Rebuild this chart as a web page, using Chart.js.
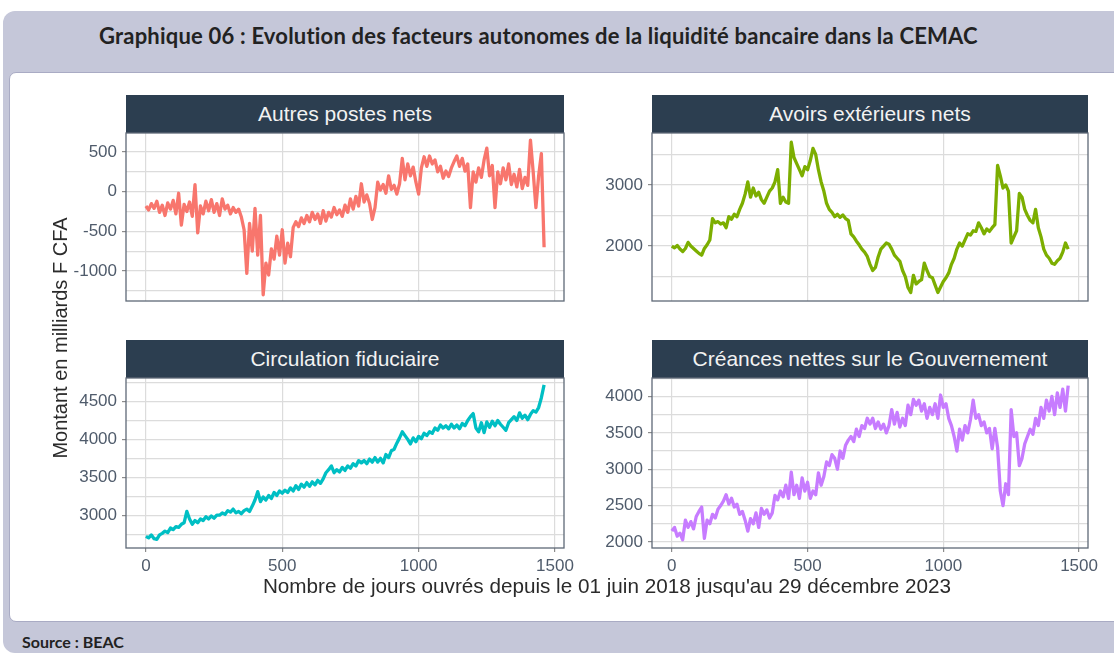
<!DOCTYPE html>
<html lang="fr">
<head>
<meta charset="utf-8">
<title>Graphique 06</title>
<script src="https://cdn.jsdelivr.net/npm/chart.js@4.4.1/dist/chart.umd.min.js"></script>
<style>
  html, body { margin: 0; padding: 0; width: 1114px; height: 655px; overflow: hidden; background: #fff; font-family: "Liberation Sans", Arial, sans-serif; }
  #outer { position: absolute; left: 3px; top: 11px; width: 1200px; height: 642px; background: #c5c7d9; border-radius: 12px; }
  #title { position: absolute; left: 99px; top: 22px; font: bold 22px Lato, sans-serif; letter-spacing: 0.2px; color: #222; white-space: nowrap; }
  #inner { position: absolute; left: 9px; top: 72px; width: 1200px; height: 548px; background: #fff; border: 1px solid #a9abc4; border-radius: 7px; }
  #source { position: absolute; left: 22px; top: 632px; font: bold 16px Lato, sans-serif; color: #222; }
  .strip { position: absolute; height: 38px; background: #2c3e50; color: #f2f2f2; font-size: 21px; line-height: 38px; text-align: center; }
  .panel { position: absolute; }
  #ytitle { position: absolute; left: -140px; top: 326px; width: 400px; height: 24px; line-height: 24px; text-align: center; font-size: 20px; color: #2b2b2b; transform: rotate(-90deg); }
  #xtitle { position: absolute; left: 126px; top: 574px; width: 962px; text-align: center; font-size: 20.7px; color: #2b2b2b; }
</style>
</head>
<body>
<div id="outer"></div>
<div id="title">Graphique 06 : Evolution des facteurs autonomes de la liquidité bancaire dans la CEMAC</div>
<div id="inner"></div>
<div id="source">Source : BEAC</div>

<div class="strip" style="left:126px; top:95px; width:438px;">Autres postes nets</div>
<div class="strip" style="left:652px; top:95px; width:436px;">Avoirs extérieurs nets</div>
<div class="strip" style="left:126px; top:340px; width:438px;">Circulation fiduciaire</div>
<div class="strip" style="left:652px; top:340px; width:436px;">Créances nettes sur le Gouvernement</div>

<canvas class="panel" id="c1" width="524" height="188" style="left:60px; top:123px;"></canvas>
<canvas class="panel" id="c2" width="522" height="188" style="left:586px; top:123px;"></canvas>
<canvas class="panel" id="c3" width="524" height="212" style="left:60px; top:368px;"></canvas>
<canvas class="panel" id="c4" width="522" height="212" style="left:586px; top:368px;"></canvas>

<div id="ytitle">Montant en milliards F CFA</div>
<div id="xtitle">Nombre de jours ouvrés depuis le 01 juin 2018 jusqu'au 29 décembre 2023</div>

<script>
// one value every 10 business days, day 0 .. 1460
const days = [];
for (let d = 0; d <= 1460; d += 10) days.push(d);

// Autres postes nets (milliards F CFA)
const autresPostes = [
  -180,-230,-150,-210,-120,-260,-170,-300,-140,-220,
  -110,-280,-20,-420,-160,-250,-130,-310,90,-520,
  -180,-280,-120,-240,-100,-260,-150,-300,-90,-220,
  -170,-280,-200,-260,-220,-320,-480,-1030,-400,-750,
  -210,-800,-300,-1300,-900,-1050,-720,-850,-560,-800,
  -480,-900,-650,-820,-450,-380,-440,-330,-400,-300,
  -380,-260,-350,-280,-400,-240,-370,-260,-320,-200,
  -290,-230,-310,-170,-260,-90,-220,-60,-180,100,
  -130,-40,-150,-350,-200,120,20,90,-20,200,
  30,80,-30,100,420,150,350,200,310,120,
  -30,300,440,320,450,350,400,250,320,170,
  260,190,300,380,450,320,420,260,350,-200,
  250,120,300,180,400,550,200,330,-200,250,
  100,300,150,350,90,220,60,280,40,180,
  80,650,250,-200,200,480,-700
];

// Avoirs extérieurs nets
const avoirsExt = [
  2000,1970,2010,1950,1910,1960,2060,2000,1960,1920,
  1880,1850,1960,2020,2100,2450,2380,2400,2360,2380,
  2300,2480,2440,2520,2480,2600,2700,2850,3050,2800,
  2950,2820,2880,2760,2700,2800,2900,2950,3050,3250,
  2700,2800,2720,2700,3700,3450,3350,3250,3150,3300,
  3250,3400,3600,3500,3250,3050,2900,2700,2600,2550,
  2480,2520,2470,2510,2450,2420,2200,2150,2080,2020,
  1950,1900,1830,1700,1600,1650,1820,1950,2000,2050,
  2030,1950,1850,1800,1750,1600,1500,1320,1240,1520,
  1380,1420,1450,1720,1600,1500,1480,1360,1240,1330,
  1420,1480,1560,1700,1800,1950,2050,2000,2100,2200,
  2180,2250,2240,2380,2300,2200,2280,2240,2300,2350,
  3320,3150,2950,3000,2900,2050,2150,2250,2860,2800,
  2600,2500,2420,2380,2600,2300,2150,1950,1850,1800,
  1720,1700,1760,1800,1900,2050,1950
];

// Circulation fiduciaire
const circulation = [
  2720,2700,2740,2690,2680,2740,2760,2790,2770,2830,
  2810,2850,2840,2880,2900,3050,2950,2880,2930,2900,
  2950,2930,2980,2950,2990,2960,3000,3000,3030,3010,
  3060,3040,3080,3030,3050,3020,3060,3080,3050,3120,
  3200,3310,3180,3240,3200,3260,3220,3300,3260,3320,
  3290,3330,3300,3360,3320,3390,3340,3410,3370,3430,
  3380,3440,3400,3460,3420,3480,3560,3600,3650,3560,
  3600,3570,3630,3590,3650,3620,3680,3650,3720,3690,
  3720,3680,3740,3700,3760,3700,3750,3690,3800,3760,
  3850,3870,3950,4020,4100,4050,4000,3940,4020,3970,
  4040,4010,4080,4050,4100,4080,4150,4120,4190,4150,
  4180,4140,4200,4150,4190,4140,4210,4180,4250,4300,
  4340,4150,4100,4220,4090,4230,4160,4240,4180,4250,
  4200,4160,4120,4220,4260,4300,4250,4350,4280,4320,
  4260,4330,4380,4360,4420,4550,4720
];

// Créances nettes sur le Gouvernement
const creancesGouv = [
  2150,2200,2080,2120,2030,2300,2200,2280,2180,2350,
  2420,2480,2050,2300,2250,2380,2330,2450,2500,2560,
  2650,2520,2600,2480,2520,2380,2420,2300,2150,2320,
  2250,2400,2200,2460,2380,2440,2330,2400,2640,2580,
  2700,2620,2780,2600,2960,2650,2780,2600,2880,2700,
  2820,2600,2700,2650,2950,2780,2900,3100,3050,3200,
  3150,3000,3250,3150,3330,3400,3450,3380,3550,3450,
  3600,3560,3700,3620,3700,3560,3650,3550,3620,3500,
  3600,3820,3620,3780,3580,3700,3600,3880,3750,3960,
  3880,3950,3800,3900,3700,3850,3750,3900,3700,4020,
  3850,3900,3700,3600,3450,3250,3550,3400,3600,3500,
  3680,3950,3700,3750,3600,3650,3500,3560,3280,3560,
  3300,2700,2500,2800,2650,3820,3450,3500,3050,3150,
  3350,3450,3550,3480,3700,3600,3850,3700,3950,3800,
  4000,3750,4050,3850,4100,3800,4150
];

// y ranges (free scales, like facet_wrap)
const yMin = [-1378, 1100, 2567, 1917];
const yMax = [740, 3851, 4810, 4254];
const yStep = [250, 500, 250, 250];
const yLabelEvery = [500, 1000, 500, 500];
const colors = ['#F8766D', '#7CAE00', '#00BFC4', '#C77CFF'];

// frame around the plotting area
const panelBorder = {
  id: 'panelBorder',
  afterDraw(chart) {
    const ctx = chart.ctx;
    const a = chart.chartArea;
    ctx.save();
    ctx.strokeStyle = '#5f6977';
    ctx.lineWidth = 1.3;
    ctx.strokeRect(a.left, a.top, a.right - a.left, a.bottom - a.top);
    ctx.restore();
  }
};

// ticks on round values only (major + minor)
function roundTicks(step) {
  return function (s) {
    const t = [];
    for (let v = Math.ceil(s.min / step) * step; v <= s.max; v += step) t.push({ value: v });
    s.ticks = t;
  };
}

function makePanel(id, values, k, showX) {
  const pts = days.map((d, i) => ({ x: d, y: values[i] }));
  const tickFont = { family: 'Liberation Sans', size: 17 };
  return new Chart(document.getElementById(id), {
    type: 'line',
    data: {
      datasets: [{
        data: pts,
        borderColor: colors[k],
        borderWidth: 3.3,
        borderJoinStyle: 'round',
        pointRadius: 0,
        tension: 0,
        fill: false
      }]
    },
    options: {
      responsive: false,
      animation: false,
      layout: { padding: { left: 0, right: 20, top: 10, bottom: showX ? 0 : 10 } },
      plugins: { legend: { display: false }, tooltip: { enabled: false } },
      scales: {
        x: {
          type: 'linear',
          min: -73,
          max: 1533,
          border: { display: false },
          grid: { color: '#dcdcdc', lineWidth: 1.2, drawTicks: showX, tickLength: 4, tickColor: '#8c8c8c' },
          ticks: {
            display: showX,
            padding: 4,
            color: '#4f5b6b',
            font: tickFont,
            maxRotation: 0,
            autoSkip: false,
            callback: v => String(v)
          },
          afterBuildTicks: roundTicks(500),
          afterFit(s) { s.height = showX ? 32 : 0; s.paddingLeft = 0; s.paddingRight = 0; }
        },
        y: {
          min: yMin[k],
          max: yMax[k],
          border: { display: false },
          grid: {
            color: '#dcdcdc',
            lineWidth: 1.2,
            tickLength: 4,
            tickColor: c => (c.tick && c.tick.value % yLabelEvery[k] === 0) ? '#8c8c8c' : 'rgba(0,0,0,0)'
          },
          ticks: {
            padding: 5,
            color: '#4f5b6b',
            font: tickFont,
            autoSkip: false,
            callback: v => (v % yLabelEvery[k] === 0) ? String(v) : ''
          },
          afterBuildTicks: roundTicks(yStep[k]),
          afterFit(s) { s.width = 66; s.paddingTop = 0; s.paddingBottom = 0; }
        }
      }
    },
    plugins: [panelBorder]
  });
}

makePanel('c1', autresPostes, 0, false);
makePanel('c2', avoirsExt, 1, false);
makePanel('c3', circulation, 2, true);
makePanel('c4', creancesGouv, 3, true);
</script>
</body>
</html>
